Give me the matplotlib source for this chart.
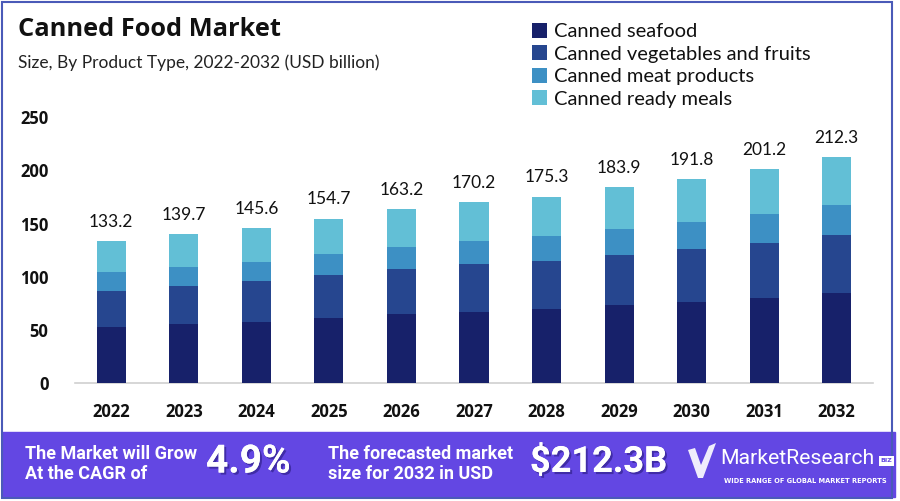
import matplotlib
matplotlib.use("Agg")
import matplotlib.pyplot as plt
import numpy as np
from matplotlib.patches import Rectangle, Polygon
import matplotlib.patheffects as pe

years = ["2022", "2023", "2024", "2025", "2026", "2027", "2028", "2029", "2030", "2031", "2032"]
totals = [133.2, 139.7, 145.6, 154.7, 163.2, 170.2, 175.3, 183.9, 191.8, 201.2, 212.3]
seafood = [52.9, 55.5, 57.3, 61.4, 64.8, 67.3, 69.5, 73.3, 76.1, 80.2, 84.9]
veg_fruits = [34.1, 36.2, 38.6, 40.4, 42.3, 44.5, 45.4, 47.6, 50.1, 51.9, 54.5]
meat = [17.3, 17.9, 18.1, 19.7, 21.0, 22.2, 23.3, 23.8, 25.1, 26.4, 27.9]
ready_meals = [round(t - a - b - c, 1) for t, a, b, c in zip(totals, seafood, veg_fruits, meat)]

series_names = ["Canned seafood", "Canned vegetables and fruits", "Canned meat products", "Canned ready meals"]
colors = ["#17216a", "#26468f", "#3d90c4", "#62bfd6"]

fig = plt.figure(figsize=(9, 5.01), dpi=100)
W, H = 900, 501

def fx(px):
    return px / W

def fy(py):
    return 1 - py / H

# outer frame
fig.patches.append(Rectangle((fx(2), fy(498)), fx(892) - fx(2), fy(2) - fy(498),
                             transform=fig.transFigure, fill=False, edgecolor="#4a5ab8", linewidth=1.5))

ax = fig.add_axes([fx(75), fy(383.3), fx(873) - fx(75), fy(117) - fy(383.3)])
x = np.arange(len(years))
bottom = np.zeros(len(years))
for vals, c, name in zip([seafood, veg_fruits, meat, ready_meals], colors, series_names):
    ax.bar(x, vals, width=0.4, bottom=bottom, color=c, label=name, zorder=3)
    bottom += np.array(vals)

for xi, t in zip(x, totals):
    ax.text(xi, t + 18, f"{t:.1f}", ha="center", va="center", fontsize=12.5,
            family="Lato", color="#111111")

ax.set_xlim(-0.5, 10.5)
ax.set_ylim(0, 250)
ax.set_yticks([0, 50, 100, 150, 200, 250])
ax.set_xticks(x)
ax.set_xticklabels(years)
for s in ["top", "right", "left"]:
    ax.spines[s].set_visible(False)
ax.spines["bottom"].set_color("#d0d0d0")
ax.spines["bottom"].set_linewidth(1.2)
ax.tick_params(axis="both", length=0)
ax.tick_params(axis="y", pad=19)
ax.tick_params(axis="x", pad=14)
for lab in ax.get_yticklabels() + ax.get_xticklabels():
    lab.set_fontweight("bold")
    lab.set_fontsize(12)
    lab.set_family("Open Sans")
    lab.set_color("#111111")

# title and subtitle
fig.text(fx(18), fy(30), "Canned Food Market", fontsize=18.3, fontweight="bold",
         family="Open Sans", va="center", ha="left", color="#111111")
fig.text(fx(18), fy(63), "Size, By Product Type, 2022-2032 (USD billion)", fontsize=12.5,
         family="Lato", va="center", ha="left", color="#222222")

# legend
handles, labels = ax.get_legend_handles_labels()
leg = fig.legend(handles, labels, loc="upper left", bbox_to_anchor=(fx(532), fy(23)),
                 frameon=False, handlelength=0.75, handleheight=0.75,
                 handletextpad=0.35, labelspacing=0.25, borderaxespad=0, borderpad=0,
                 prop={"family": "Lato", "size": 14.5})
for t in leg.get_texts():
    t.set_color("#111111")

# bottom banner
banner = "#6347e3"
fig.patches.append(Rectangle((fx(2), fy(497)), fx(895) - fx(2), fy(432) - fy(497),
                             transform=fig.transFigure, color=banner, zorder=0))

shadow = [pe.withSimplePatchShadow(offset=(1.5, -1.5), shadow_rgbFace="#2a1a80", alpha=0.6), pe.Normal()]
fig.text(fx(25), fy(464), "The Market will Grow\nAt the CAGR of", fontsize=13, fontweight="bold",
         family="Roboto", color="white", va="center", ha="left", linespacing=1.2)
fig.text(fx(206), fy(462), "4.9%", fontsize=28, fontweight="bold", family="Roboto",
         color="white", va="center", ha="left", path_effects=shadow)
fig.text(fx(328), fy(464), "The forecasted market\nsize for 2032 in USD", fontsize=13, fontweight="bold",
         family="Roboto", color="white", va="center", ha="left", linespacing=1.2)
fig.text(fx(530), fy(462), "$212.3B", fontsize=26, fontweight="bold", family="Roboto",
         color="white", va="center", ha="left", path_effects=shadow)

# logo
check1 = Polygon([[fx(688), fy(450)], [fx(695), fy(448)], [fx(701), fy(465)], [fx(709), fy(446)],
                  [fx(716), fy(443)], [fx(703), fy(478)], [fx(698), fy(478)]],
                 closed=True, transform=fig.transFigure, facecolor="white", edgecolor="none", alpha=0.9)
fig.patches.append(check1)
fig.text(fx(720), fy(459), "MarketResearch", fontsize=15.3, family="Roboto", color="white",
         va="center", ha="left")
fig.patches.append(Rectangle((fx(879), fy(466)), fx(894) - fx(879), fy(456) - fy(466),
                             transform=fig.transFigure, facecolor="white", edgecolor="none"))
fig.text(fx(886.5), fy(461), "BIZ", fontsize=4.5, fontweight="bold", family="DejaVu Sans", color=banner,
         va="center", ha="center")
fig.text(fx(724), fy(481), "WIDE RANGE OF GLOBAL MARKET REPORTS", fontsize=4.8, fontweight="bold",
         family="DejaVu Sans", color="white", va="center", ha="left")

fig.savefig("out.png", dpi=100)
